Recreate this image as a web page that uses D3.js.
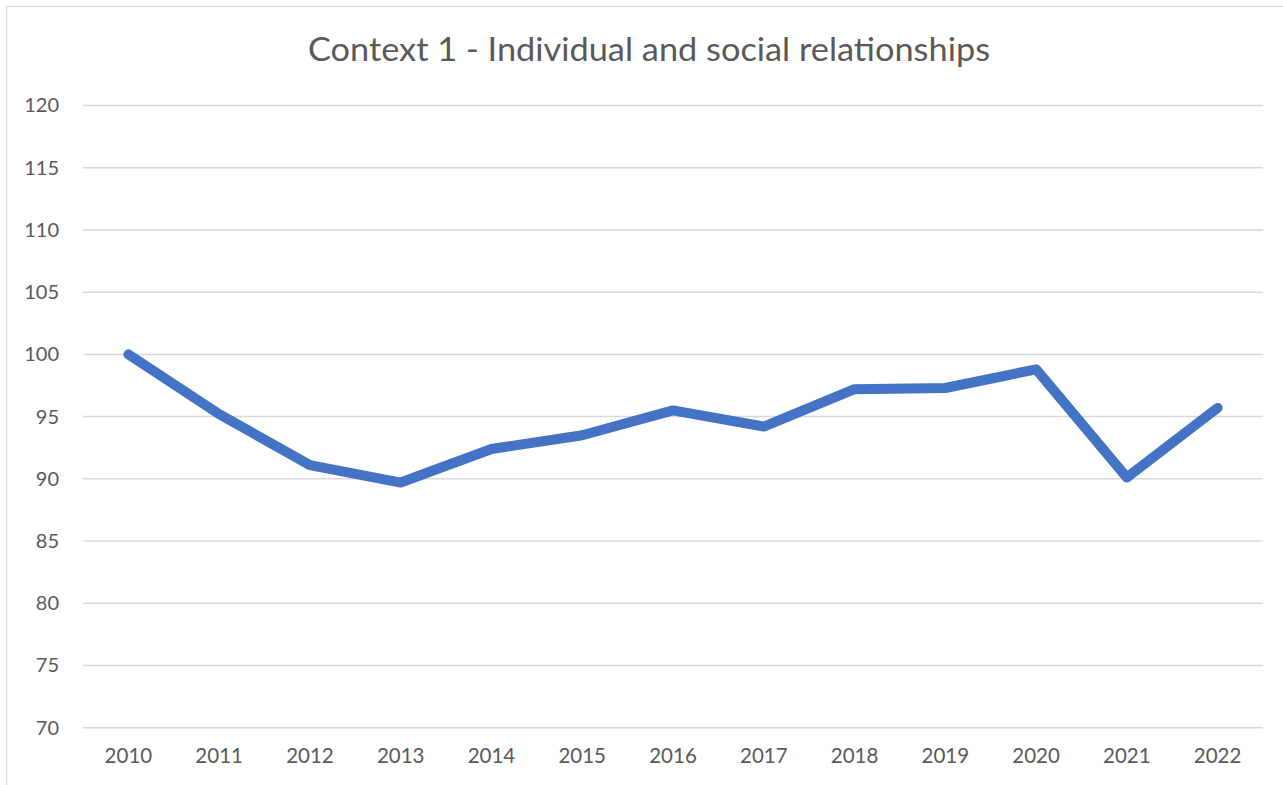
<!DOCTYPE html>
<html>
<head>
<meta charset="utf-8">
<script src="https://cdn.jsdelivr.net/npm/d3@7"></script>
<style>
  html, body { margin: 0; padding: 0; background: #fff; }
  svg { display: block; }
</style>
</head>
<body>
<script>
// Index values per year
const years = ["2010","2011","2012","2013","2014","2015","2016","2017","2018","2019","2020","2021","2022"];
const values = [100, 95.2, 91.1, 89.7, 92.4, 93.5, 95.5, 94.2, 97.2, 97.3, 98.8, 90.1, 95.7];
const yTicks = [70, 75, 80, 85, 90, 95, 100, 105, 110, 115, 120];
const titleText = "Context 1 - Individual and social relationships";

const W = 1283, H = 785;
const margin = { left: 83, right: 20, top: 105.5, bottom: 57.3 };

const svg = d3.select("body").append("svg")
  .attr("width", W).attr("height", H);

// Chart area frame
svg.append("rect")
  .attr("x", 6.5).attr("y", 6.5)
  .attr("width", W + 10).attr("height", H + 10)
  .attr("fill", "#fff")
  .attr("stroke", "#d9d9d9").attr("stroke-width", 1.3);

const x = d3.scaleBand()
  .domain(years)
  .range([margin.left, W - margin.right])
  .padding(0);

const y = d3.scaleLinear()
  .domain([70, 120])
  .range([H - margin.bottom, margin.top]);

// Horizontal gridlines
svg.append("g")
  .selectAll("line")
  .data(yTicks)
  .join("line")
  .attr("x1", margin.left).attr("x2", W - margin.right)
  .attr("y1", d => y(d)).attr("y2", d => y(d))
  .attr("stroke", "#d9d9d9").attr("stroke-width", 1.5);

// Y axis labels
const yAxis = d3.axisLeft(y).tickValues(yTicks).tickSize(0).tickPadding(0);
const gy = svg.append("g")
  .attr("transform", `translate(${59},0)`)
  .call(yAxis);
gy.select(".domain").remove();
gy.selectAll("text")
  .attr("font-family", "Lato, sans-serif")
  .attr("font-size", 20)
  .attr("fill", "#595959");

// X axis labels
const xAxis = d3.axisBottom(x).tickSize(0).tickPadding(0);
const gx = svg.append("g")
  .attr("transform", `translate(0,${H - margin.bottom})`)
  .call(xAxis);
gx.select(".domain").remove();
gx.selectAll("text")
  .attr("dy", null)
  .attr("y", 35)
  .attr("font-family", "Lato, sans-serif")
  .attr("font-size", 20.5)
  .attr("fill", "#595959");

// Series line
const line = d3.line()
  .x((d, i) => x(years[i]) + x.bandwidth() / 2)
  .y(d => y(d));

svg.append("path")
  .datum(values)
  .attr("d", line)
  .attr("fill", "none")
  .attr("stroke", "#4472c4")
  .attr("stroke-width", 10)
  .attr("stroke-linecap", "round")
  .attr("stroke-linejoin", "round");

// Title
svg.append("text")
  .attr("x", 649)
  .attr("y", 61)
  .attr("text-anchor", "middle")
  .attr("font-family", "Lato, sans-serif")
  .attr("font-size", 33)
  .attr("textLength", 682)
  .attr("lengthAdjust", "spacingAndGlyphs")
  .attr("fill", "#595959")
  .text(titleText);
</script>
</body>
</html>
